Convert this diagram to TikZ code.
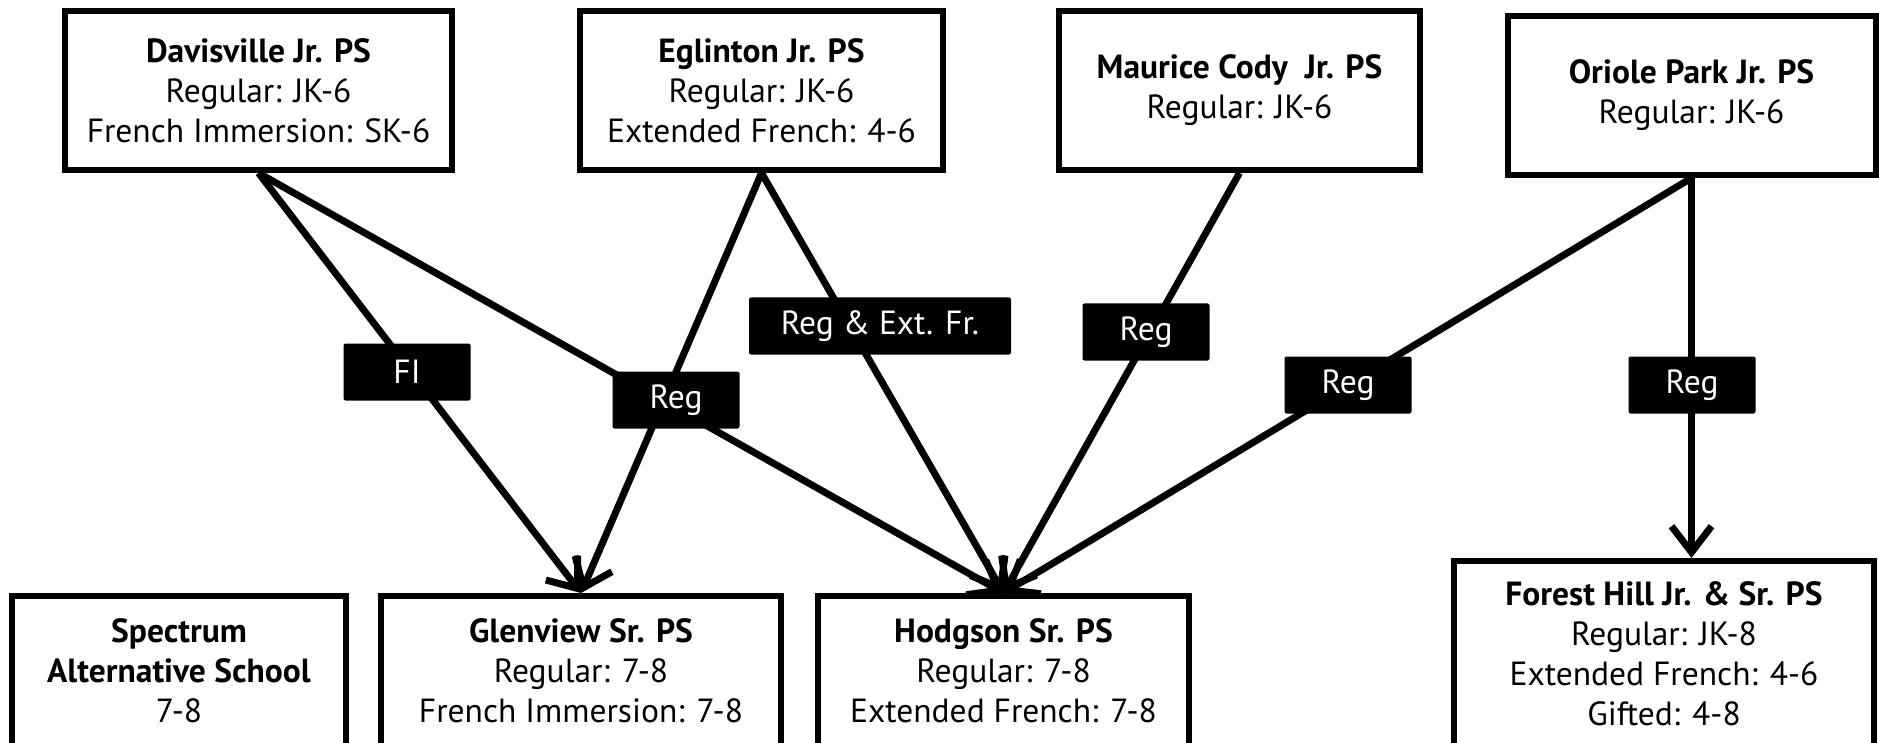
\documentclass[tikz,border=0pt]{standalone}
\usepackage{fontspec}
\setmainfont{PT Sans}
\usetikzlibrary{arrows.meta,calc}
\begin{document}
\begin{tikzpicture}[x=1pt,y=-1pt,
  school/.style={draw=black, line width=6pt, fill=white, align=center, inner sep=0pt,
    font=\fontsize{33.5}{40}\selectfont},
  tag/.style={fill=black, text=white, rounded corners=2pt, inner sep=0pt,
    minimum height=57pt, font=\fontsize{33.5}{36}\selectfont},
  link/.style={line width=7pt, line join=round},
  arr/.style={link, -{Straight Barb[length=26pt,width=40pt]}}
]
\useasboundingbox (0,0) rectangle (1879,743);
% upper schools
\node[school, minimum width=387pt, minimum height=159pt] (dav) at (258.5,90.5)
  {\textbf{Davisville Jr. PS}\\Regular: JK-6\\French Immersion: SK-6};
\node[school, minimum width=363pt, minimum height=159pt] (egl) at (761.5,90.5)
  {\textbf{Eglinton Jr. PS}\\Regular: JK-6\\Extended French: 4-6};
\node[school, minimum width=361pt, minimum height=159pt] (mau) at (1239.5,90.5)
  {\textbf{Maurice Cody\ \ Jr. PS}\\Regular: JK-6};
\node[school, minimum width=368pt, minimum height=159pt] (ori) at (1691.5,95.5)
  {\textbf{Oriole Park Jr. PS}\\Regular: JK-6};
% lower schools
\node[school, minimum width=334pt, minimum height=150pt] (spe) at (179,671)
  {\textbf{Spectrum}\\\textbf{Alternative School}\\7-8};
\node[school, minimum width=400pt, minimum height=150pt] (gle) at (581,671)
  {\textbf{Glenview Sr. PS}\\Regular: 7-8\\French Immersion: 7-8};
\node[school, minimum width=371pt, minimum height=150pt] (hod) at (1003.5,671)
  {\textbf{Hodgson Sr. PS}\\Regular: 7-8\\Extended French: 7-8};
\node[school, minimum width=420pt, minimum height=186pt] (fh) at (1664,654)
  {\textbf{Forest Hill Jr. \& Sr. PS}\\Regular: JK-8\\Extended French: 4-6\\Gifted: 4-8};
\coordinate (fhin) at (ori.south |- fh.north);
% connectors (straight, labels drawn on top)
\draw[arr] (dav.south) -- (gle.north);
\draw[arr] (dav.south) -- (hod.north);
\draw[arr] (egl.south) -- (gle.north);
\draw[arr] (egl.south) -- (hod.north);
\draw[arr] (mau.south) -- (hod.north);
\draw[arr] (ori.south) -- (hod.north);
\draw[arr] (ori.south) -- (fhin);
% tags
\node[tag, minimum width=127pt] (tFI) at (407,372) {FI};
\node[tag, minimum width=127pt] (tR1) at (676,400) {Reg};
\node[tag, minimum width=262pt] (tRE) at (880,326) {Reg \& Ext. Fr.};
\node[tag, minimum width=127pt] (tR2) at (1146,332) {Reg};
\node[tag, minimum width=127pt] (tR3) at (1348,385) {Reg};
\node[tag, minimum width=127pt] (tR4) at (1692,385) {Reg};
\end{tikzpicture}
\end{document}
